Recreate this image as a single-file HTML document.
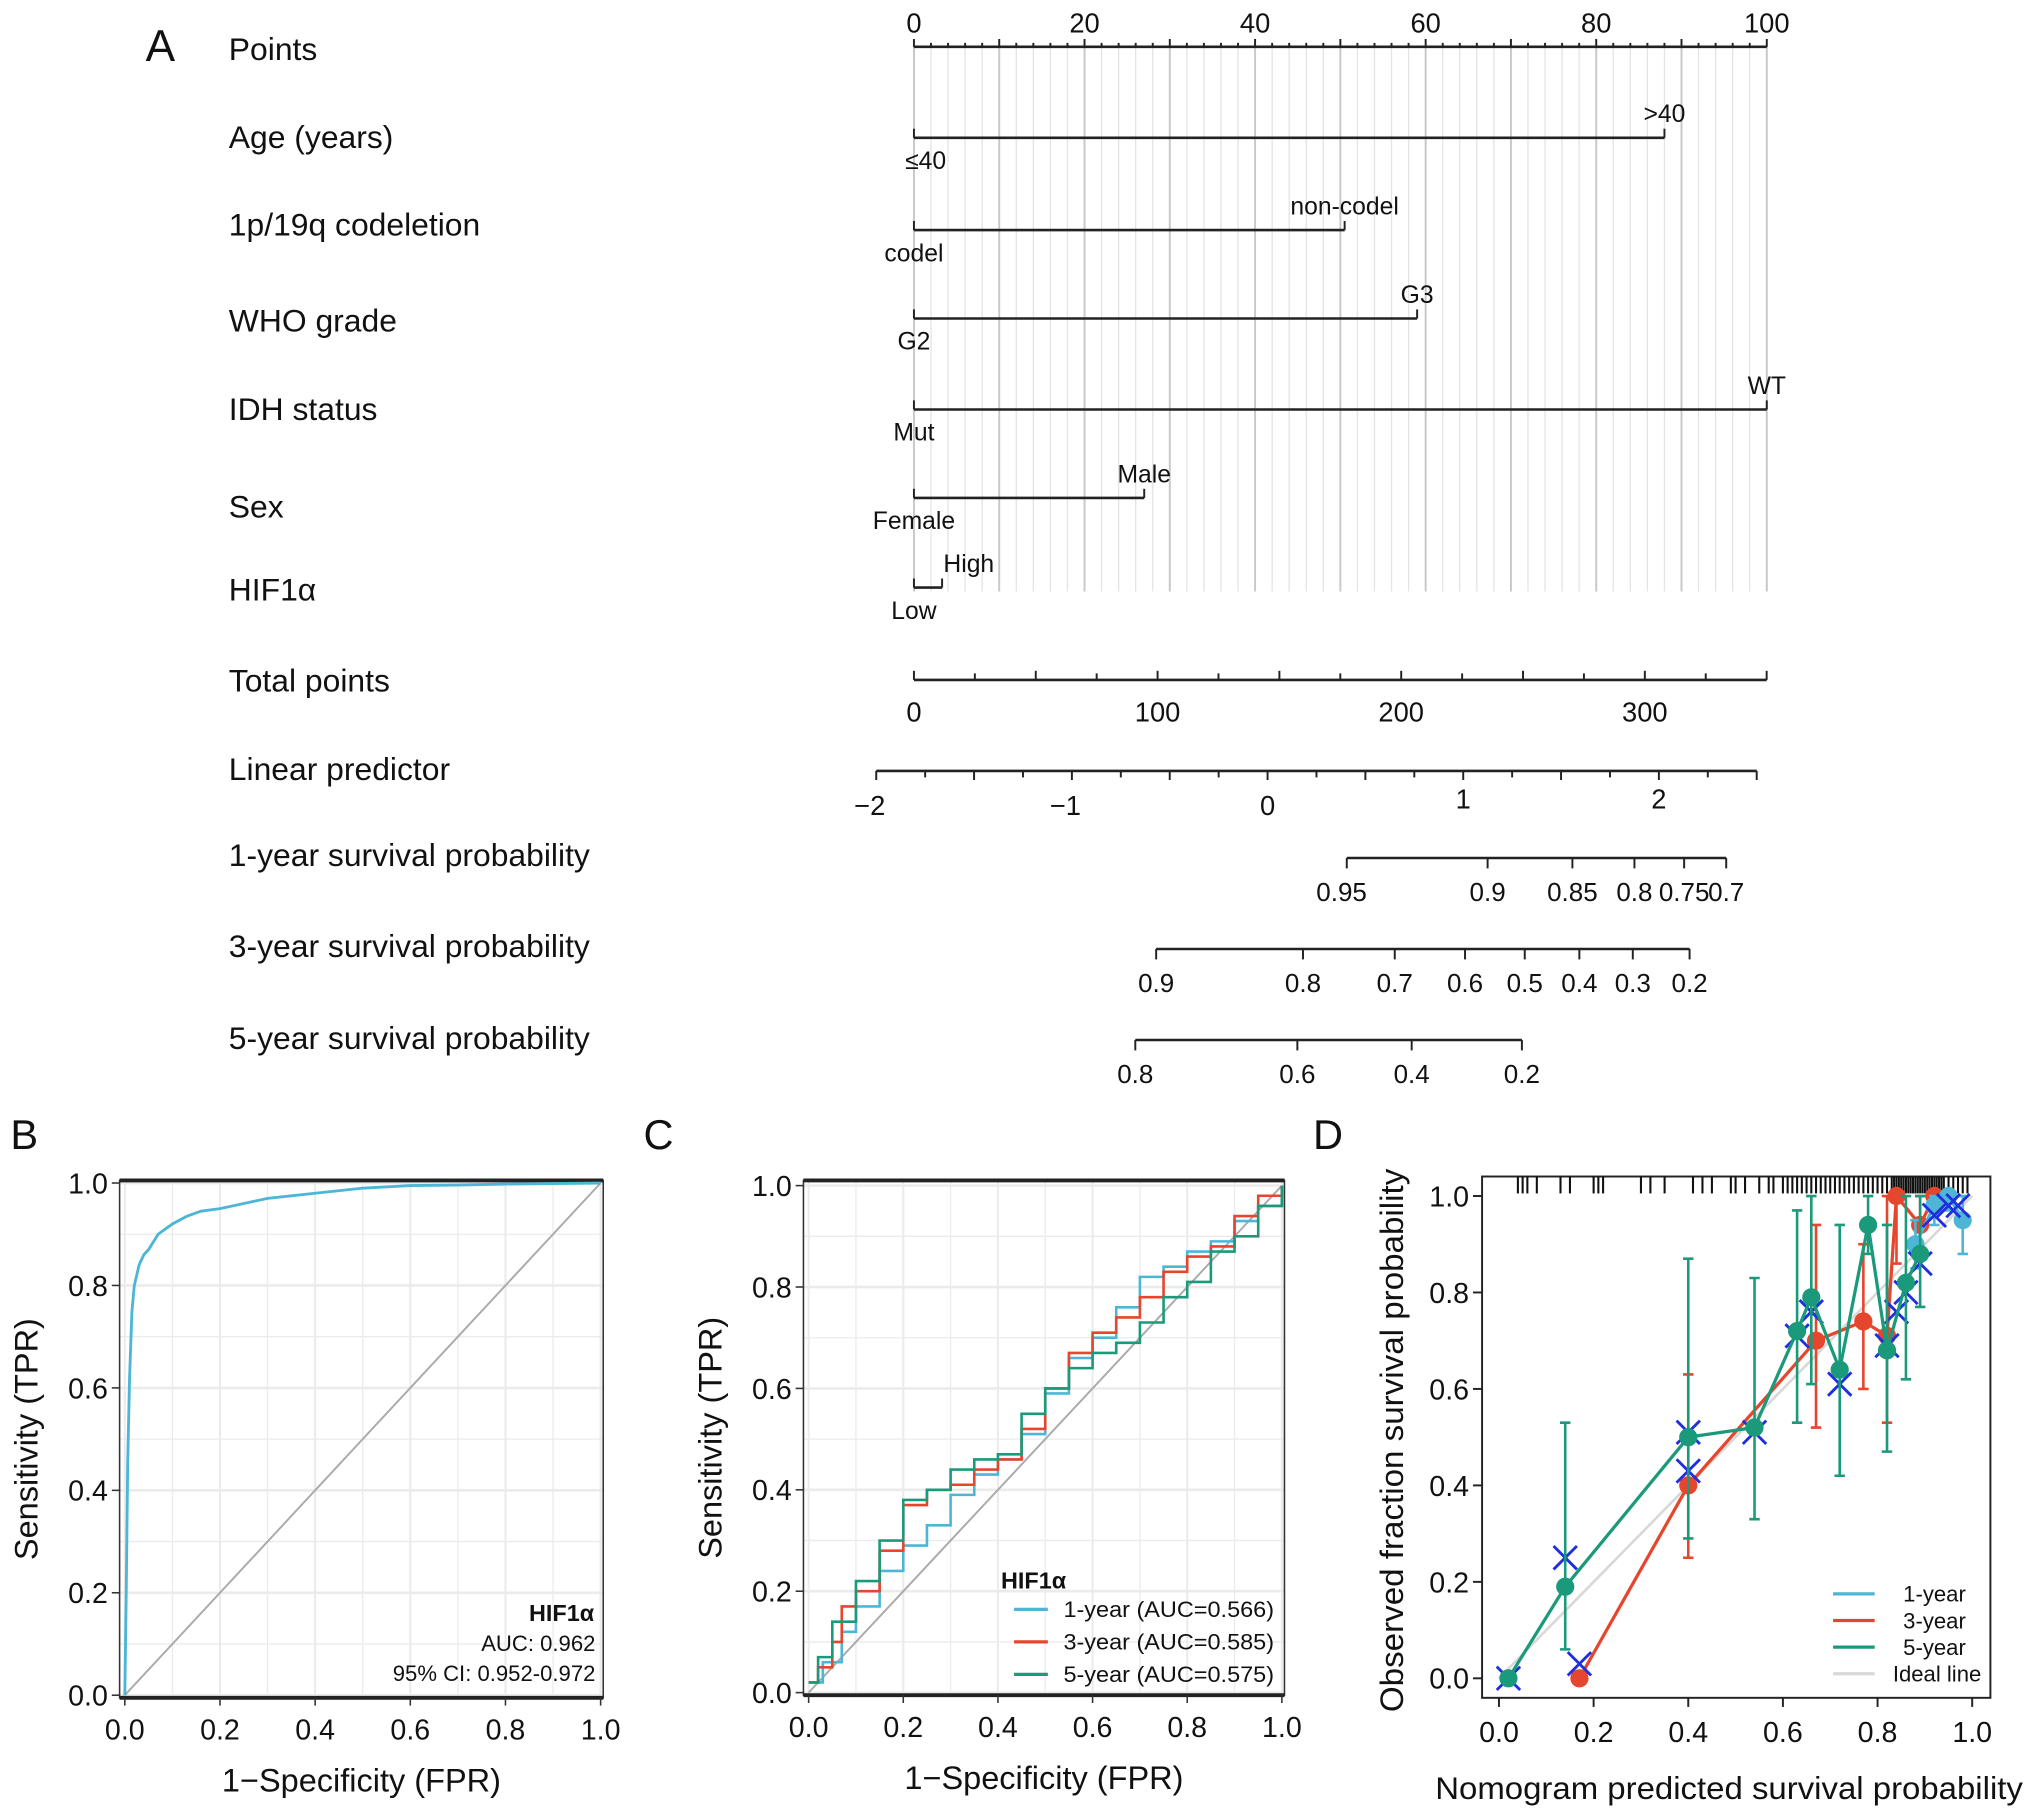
<!DOCTYPE html>
<html><head><meta charset="utf-8"><style>
html,body{margin:0;padding:0;background:#fff}
svg{display:block}
text{font-family:"Liberation Sans",Arial,sans-serif;fill:#111}
</style></head><body>
<svg id="fig" xmlns="http://www.w3.org/2000/svg" width="2032" height="1813" viewBox="0 0 1563 1394.6" preserveAspectRatio="none"></svg>
<script>
// ---------- DATA ----------
const nomoVars = ["Age (years)","1p/19q codeletion","WHO grade","IDH status","Sex","HIF1\u03b1"];
const nomoLow = ["\u226440","codel","G2","Mut","Female","Low"];
const nomoHigh = [">40","non-codel","G3","WT","Male","High"];
const nomoPoints = [88,50.5,59,100,27,3.3];
const pointTicks = [0,20,40,60,80,100];
const totalTicks = [0,100,200,300];
const lpTicks = [-2,-1,0,1,2];
const surv1 = [0.95,0.9,0.85,0.8,0.75,0.7];
const surv3 = [0.9,0.8,0.7,0.6,0.5,0.4,0.3,0.2];
const surv5 = [0.8,0.6,0.4,0.2];
const survConst = [3.375,1.681,0.824];

const rocBx = [0,0.003,0.006,0.01,0.015,0.02,0.03,0.04,0.05,0.07,0.1,0.13,0.16,0.2,0.25,0.3,0.35,0.4,0.5,0.6,0.7,0.8,0.9,1];
const rocBy = [0,0.2,0.45,0.62,0.75,0.8,0.84,0.86,0.87,0.9,0.92,0.935,0.945,0.95,0.96,0.97,0.975,0.98,0.99,0.995,0.996,0.998,0.999,1];

const rocCx1 = [0,0.03,0.07,0.1,0.15,0.2,0.25,0.3,0.35,0.4,0.45,0.5,0.55,0.6,0.65,0.7,0.75,0.8,0.85,0.9,0.95,1];
const rocCy1 = [0.02,0.06,0.12,0.17,0.24,0.29,0.33,0.39,0.43,0.46,0.51,0.59,0.66,0.7,0.76,0.82,0.84,0.87,0.89,0.93,0.96,1];
const rocCx3 = [0,0.02,0.05,0.07,0.1,0.15,0.2,0.25,0.3,0.35,0.4,0.45,0.5,0.55,0.6,0.65,0.7,0.75,0.8,0.85,0.9,0.95,1];
const rocCy3 = [0.02,0.05,0.1,0.17,0.2,0.28,0.37,0.4,0.41,0.44,0.46,0.52,0.6,0.67,0.71,0.74,0.78,0.83,0.86,0.88,0.94,0.98,1];
const rocCx5 = [0,0.02,0.05,0.1,0.15,0.2,0.25,0.3,0.35,0.4,0.45,0.5,0.55,0.6,0.65,0.7,0.75,0.8,0.85,0.9,0.95,1];
const rocCy5 = [0.02,0.07,0.14,0.22,0.3,0.38,0.4,0.44,0.46,0.47,0.55,0.6,0.64,0.67,0.69,0.73,0.78,0.81,0.87,0.9,0.96,1];

const cal5x = [0.02,0.14,0.40,0.54,0.63,0.66,0.72,0.78,0.82,0.86,0.89];
const cal5y = [0.0,0.19,0.50,0.52,0.72,0.79,0.64,0.94,0.68,0.82,0.88];
const cal5lo = [0.0,0.06,0.29,0.33,0.53,0.61,0.42,0.88,0.47,0.62,0.77];
const cal5hi = [0.0,0.53,0.87,0.83,0.97,1.0,0.94,1.0,0.94,1.0,1.0];
const cal3x = [0.17,0.40,0.67,0.77,0.82,0.84,0.89,0.92,0.95];
const cal3y = [0.0,0.40,0.70,0.74,0.71,1.0,0.94,1.0,1.0];
const cal3lo = [0.0,0.25,0.52,0.60,0.53,0.86,0.88,1.0,1.0];
const cal3hi = [0.0,0.63,0.94,0.90,1.0,1.0,1.0,1.0,1.0];
const cal1x = [0.88,0.92,0.95,0.98];
const cal1y = [0.90,0.98,1.0,0.95];
const cal1lo = [0.85,0.94,0.97,0.88];
const cal1hi = [0.95,1.0,1.0,1.0];
const kmX = [0.02,0.14,0.17,0.40,0.40,0.54,0.63,0.66,0.72,0.82,0.84,0.86,0.89,0.92,0.95,0.97];
const kmY = [0.0,0.25,0.03,0.43,0.51,0.51,0.71,0.76,0.61,0.69,0.76,0.80,0.86,0.96,0.98,0.98];
const rugVals = [0.04,0.05,0.06,0.08,0.13,0.15,0.2,0.21,0.22,0.3,0.32,0.35,0.41,0.43,0.45,0.49,0.5,0.52,0.55,0.57,0.58,0.6,0.61,0.62,0.63,0.64,0.65,0.66,0.67,0.68,0.69,0.7,0.71,0.72,0.73,0.74,0.75,0.76,0.77,0.78,0.79,0.8,0.81,0.82,0.83,0.835,0.84,0.845,0.85,0.855,0.86,0.865,0.87,0.875,0.88,0.885,0.89,0.895,0.9,0.905,0.91,0.915,0.92,0.925,0.93,0.935,0.94,0.95,0.96,0.97,0.98,0.99];

// ---------- HELPERS ----------
const NS='http://www.w3.org/2000/svg';
const svg=document.getElementById('fig');
function mk(tag,attrs,parent){const e=document.createElementNS(NS,tag);for(const k in attrs)e.setAttribute(k,attrs[k]);(parent||svg).appendChild(e);return e;}
function tx(s,x,y,size,anchor,parent,extra){const e=mk('text',Object.assign({x:x,y:y,'font-size':size,'text-anchor':anchor||'start'},extra||{}),parent);e.textContent=s;return e;}
function grp(parent){return mk('g',{},parent);}

// ---------- PANEL A: NOMOGRAM ----------
const gA=grp();


const pX=v=>703+v*6.56;
const tX=v=>703+v*1.874;
const lX=v=>975+v*150.5;
let t;
t=tx('A',112,47,34,'start',gA);

const rowLabels=["Points"].concat(nomoVars).concat(["Total points","Linear predictor","1-year survival probability","3-year survival probability","5-year survival probability"]);
const rowLabY=[46,114,181,255,323,398,462,532,600,666,736,807];
rowLabels.forEach((s,i)=>{const e=tx(s,176,rowLabY[i],24.5,'start',gA);

});
// grid lines
for(let v=0;v<=100;v+=2){const l=mk('line',{x1:pX(v),x2:pX(v),y1:36,y2:455,stroke:v%10===0?'#c8c8c8':'#e4e4e4','stroke-width':v%10===0?1.5:1},gA);
}
// points axis
let ax=mk('line',{x1:pX(0),x2:pX(100),y1:36,y2:36,stroke:'#222','stroke-width':2},gA);

for(let v=0;v<=100;v+=2){const l=mk('line',{x1:pX(v),x2:pX(v),y1:36,y2:v%10===0?30:33,stroke:'#222','stroke-width':1.5},gA);
}
pointTicks.forEach(v=>{const e=tx(String(v),pX(v),25,21,'middle',gA);
});
// variable rows
const varY=[106,177,245,315,383,452];
nomoVars.forEach((n,i)=>{const y=varY[i];
const l=mk('line',{x1:pX(0),x2:pX(nomoPoints[i]),y1:y,y2:y,stroke:'#222','stroke-width':2},gA);

[0,nomoPoints[i]].forEach(v=>{const k=mk('line',{x1:pX(v),x2:pX(v),y1:y,y2:y-7,stroke:'#222','stroke-width':1.5},gA);
});
const hi=tx(nomoHigh[i],pX(nomoPoints[i])+(i===5?1:0),y-12,19,i===5?'start':'middle',gA);

const lo=tx(nomoLow[i],i===0?712:pX(0),y+24,19,'middle',gA);

});
// total points
ax=mk('line',{x1:tX(0),x2:tX(350),y1:523,y2:523,stroke:'#222','stroke-width':2},gA);

for(let v=0;v<=350;v+=25){const l=mk('line',{x1:tX(v),x2:tX(v),y1:523,y2:v%50===0?516:518,stroke:'#222','stroke-width':1.5},gA);
}
totalTicks.forEach(v=>{const e=tx(String(v),tX(v),555,21,'middle',gA);
});
// linear predictor
ax=mk('line',{x1:lX(-2),x2:lX(2.5),y1:593,y2:593,stroke:'#222','stroke-width':2},gA);

for(let v=-2;v<=2.5;v+=0.25){const l=mk('line',{x1:lX(v),x2:lX(v),y1:593,y2:Math.abs(v%0.5)<1e-6?600:598,stroke:'#222','stroke-width':1.5},gA);
}
lpTicks.forEach(v=>{const e=tx(v<0?'\u2212'+Math.abs(v):String(v),lX(v)-(v<0?5:0),v>0?622:627,21,'middle',gA);
});
// survival scales
const survSets=[surv1,surv3,surv5];const survY=[660,730,800];
survSets.forEach((arr,i)=>{const pos=p=>lX(Math.log(-Math.log(p))+survConst[i]);const y=survY[i];
const l=mk('line',{x1:pos(arr[0]),x2:pos(arr[arr.length-1]),y1:y,y2:y,stroke:'#222','stroke-width':2},gA);

arr.forEach(p=>{const k=mk('line',{x1:pos(p),x2:pos(p),y1:y,y2:y+8,stroke:'#222','stroke-width':1.5},gA);

const e=tx(String(p),pos(p)-(i===0&&p===0.95?4:0),y+33,20,'middle',gA);
});
});

// ---------- ROC PANELS ----------
function rocFrame(g,x0,y0,x1,y1,sx,sy,letter,lx){
for(let v=0;v<=1.0001;v+=0.1){const l=mk('line',{x1:sx(v),x2:sx(v),y1:y0,y2:y1,stroke:'#ebebeb','stroke-width':Math.round(v*10)%2===0?1.6:1},g);

const h=mk('line',{x1:x0,x2:x1,y1:sy(v),y2:sy(v),stroke:'#ebebeb','stroke-width':Math.round(v*10)%2===0?2:1},g);
}
const r=mk('rect',{x:x0,y:y0,width:x1-x0,height:y1-y0,fill:'none',stroke:'#333','stroke-width':1.2},g);

[y0,y1].forEach(y=>{const b=mk('line',{x1:x0,x2:x1,y1:y,y2:y,stroke:'#222','stroke-width':3},g);
});
for(let i=0;i<=5;i++){const v=i/5;
const k=mk('line',{x1:sx(v),x2:sx(v),y1:y1,y2:y1+6,stroke:'#333','stroke-width':1.2},g);

const e=tx(v.toFixed(1),sx(v),y1+32,22,'middle',g);

const k2=mk('line',{x1:x0-6,x2:x0,y1:sy(v),y2:sy(v),stroke:'#333','stroke-width':1.2},g);

const e2=tx(v.toFixed(1),x0-9,sy(v)+8,22,'end',g);
}
const d=mk('line',{x1:sx(0),y1:sy(0),x2:sx(1),y2:sy(1),stroke:'#aaa','stroke-width':1.5},g);

const L=tx(letter,lx,884,32,'start',g);

const xt=tx('1\u2212Specificity (FPR)',(x0+x1)/2,y1+72,25,'middle',g);

const cy=(y0+y1)/2;const yt=tx('Sensitivity (TPR)',0,0,25,'middle',g,{transform:'translate('+(x0-63)+','+cy+') rotate(-90)'});

}
function stepPath(xs,ys,sx,sy){let d='M'+sx(xs[0])+','+sy(ys[0]);for(let i=1;i<xs.length;i++){d+=' H'+sx(xs[i])+' V'+sy(ys[i]);}return d;}
function linePath(xs,ys,sx,sy){return xs.map((x,i)=>(i?'L':'M')+sx(x)+','+sy(ys[i])).join(' ');}

// Panel B
const gB=grp();

const bx=v=>96+v*366, by=v=>1304-v*394;
rocFrame(gB,92,908,464,1306,bx,by,'B',8);
let p=mk('path',{d:linePath(rocBx,rocBy,bx,by),fill:'none',stroke:'#4db6d6','stroke-width':2.2},gB);

t=tx('HIF1\u03b1',457,1247,18,'end',gB,{'font-weight':'bold'});
t=tx('AUC: 0.962',458,1270,17,'end',gB);
t=tx('95% CI: 0.952-0.972',458,1293,17,'end',gB);

// Panel C
const gC=grp();

const cx=v=>622+v*364, cy=v=>1302-v*390;
rocFrame(gC,618,908,988,1304,cx,cy,'C',495);
const cCols=['#4db6d6','#e5462d','#1a9a7a'];
p=mk('path',{d:stepPath(rocCx1,rocCy1,cx,cy),fill:'none',stroke:cCols[0],'stroke-width':2},gC);

p=mk('path',{d:stepPath(rocCx3,rocCy3,cx,cy),fill:'none',stroke:cCols[1],'stroke-width':2},gC);

p=mk('path',{d:stepPath(rocCx5,rocCy5,cx,cy),fill:'none',stroke:cCols[2],'stroke-width':2},gC);

t=tx('HIF1\u03b1',770,1222,18,'start',gC,{'font-weight':'bold'});
['1-year (AUC=0.566)','3-year (AUC=0.585)','5-year (AUC=0.575)'].forEach((s,i)=>{const y=1238+i*25;
const l=mk('line',{x1:780,x2:806,y1:y,y2:y,stroke:cCols[i],'stroke-width':2.5},gC);

const e=tx(s,818,y+6,17,'start',gC,{textLength:162,lengthAdjust:'spacingAndGlyphs'});
});

// Panel D
const gD=grp();

const dx=v=>1153+v*364, dy=v=>1291-v*371;
t=tx('D',1010,884,32,'start',gD);
let r=mk('rect',{x:1140,y:905,width:391,height:401,fill:'none',stroke:'#222','stroke-width':1.5},gD);

for(let i=0;i<=5;i++){const v=i/5;
const k=mk('line',{x1:dx(v),x2:dx(v),y1:1306,y2:1313,stroke:'#222','stroke-width':1.5},gD);

const e=tx(v.toFixed(1),dx(v),1340,22,'middle',gD);

const k2=mk('line',{x1:1133,x2:1140,y1:dy(v),y2:dy(v),stroke:'#222','stroke-width':1.5},gD);

const e2=tx(v.toFixed(1),1130,dy(v)+8,22,'end',gD);
}
t=tx('Nomogram predicted survival probability',1330,1384,24,'middle',gD,{textLength:452,lengthAdjust:'spacingAndGlyphs'});
t=tx('Observed fraction survival probability',0,0,25,'middle',gD,{transform:'translate(1079,1108) rotate(-90)',textLength:418,lengthAdjust:'spacingAndGlyphs'});
rugVals.forEach(v=>{const l=mk('line',{x1:dx(v),x2:dx(v),y1:905,y2:918,stroke:'#111','stroke-width':1.6},gD);
});
p=mk('line',{x1:dx(0),y1:dy(0),x2:dx(1),y2:dy(1),stroke:'#d8d8d8','stroke-width':2},gD);

function calSeries(xs,ys,lo,hi,col,name){
xs.forEach((x,i)=>{if(hi[i]-lo[i]<0.01)return;
const e=mk('path',{d:'M'+dx(x)+','+dy(lo[i])+' V'+dy(hi[i])+' M'+(dx(x)-4)+','+dy(lo[i])+' h8 M'+(dx(x)-4)+','+dy(hi[i])+' h8',stroke:col,'stroke-width':2,fill:'none'},gD);
});
const l=mk('path',{d:linePath(xs,ys,dx,dy),fill:'none',stroke:col,'stroke-width':2.5},gD);

xs.forEach((x,i)=>{const c=mk('circle',{cx:dx(x),cy:dy(ys[i]),r:7,fill:col},gD);
});
}
calSeries(cal3x,cal3y,cal3lo,cal3hi,'#e5462d','calibration-3-year');
calSeries(cal1x,cal1y,cal1lo,cal1hi,'#4db6d6','calibration-1-year');
kmX.forEach((x,i)=>{const X=dx(x),Y=dy(kmY[i]);
const m=mk('path',{d:'M'+(X-9)+','+(Y-9)+' L'+(X+9)+','+(Y+9)+' M'+(X-9)+','+(Y+9)+' L'+(X+9)+','+(Y-9),stroke:'#1f2fe0','stroke-width':2.2},gD);
});
calSeries(cal5x,cal5y,cal5lo,cal5hi,'#1a9a7a','calibration-5-year');
[['1-year','#4db6d6'],['3-year','#e5462d'],['5-year','#1a9a7a'],['Ideal line','#d8d8d8']].forEach((d,i)=>{const y=1226+i*20.5;
const l=mk('line',{x1:1410,x2:1442,y1:y,y2:y,stroke:d[1],'stroke-width':2.5},gD);

const e=tx(d[0],i===3?1524:1488,y+6,17,i===3?'end':'middle',gD);
});
</script>
</body></html>
